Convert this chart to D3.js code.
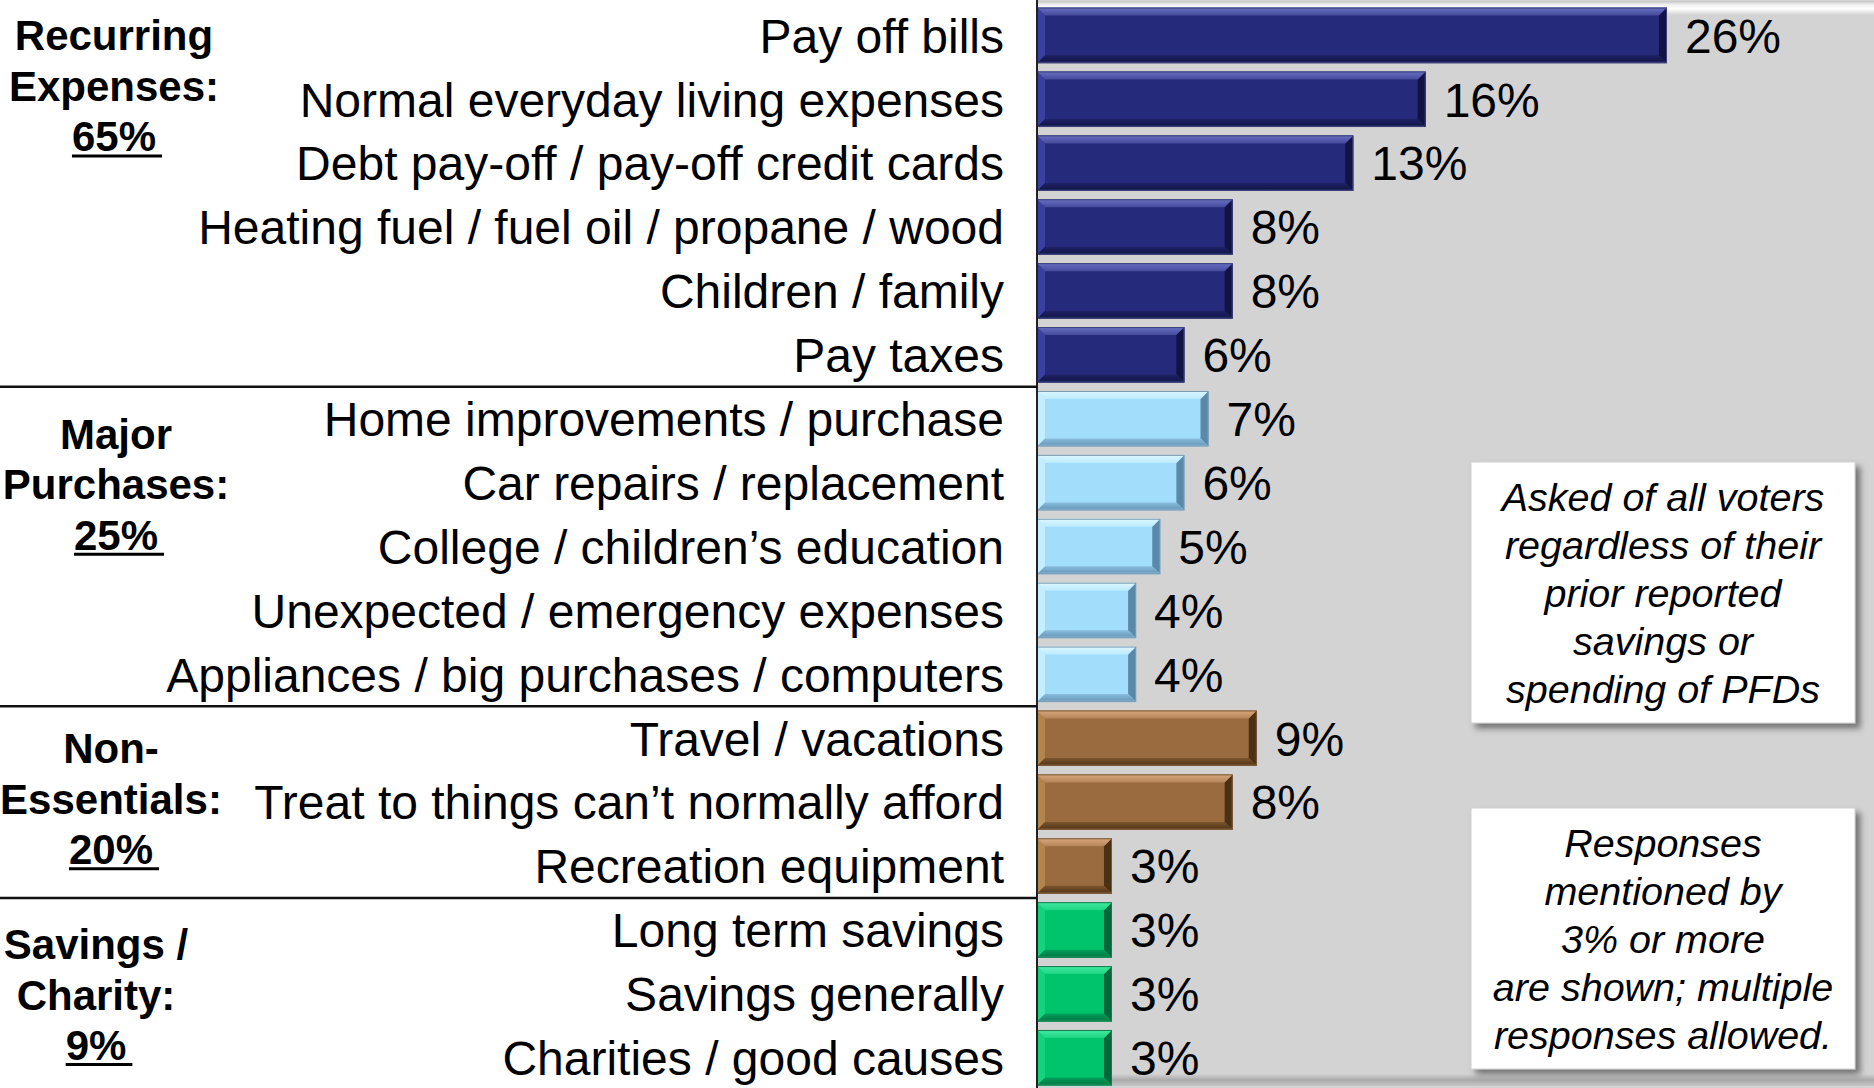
<!DOCTYPE html>
<html>
<head>
<meta charset="utf-8">
<script src="https://cdn.jsdelivr.net/npm/d3@7"></script>
<style>
  html, body { margin: 0; padding: 0; background: #fff; }
  svg { display: block; }
  text { font-family: "Liberation Sans", Arial, Helvetica, sans-serif; }
</style>
</head>
<body>
<svg id="chart" width="1874" height="1088"></svg>
<script>
// ---- Data ----
const categories = [
  "Pay off bills",
  "Normal everyday living expenses",
  "Debt pay-off / pay-off credit cards",
  "Heating fuel / fuel oil / propane / wood",
  "Children / family",
  "Pay taxes",
  "Home improvements / purchase",
  "Car repairs / replacement",
  "College / children\u2019s education",
  "Unexpected / emergency expenses",
  "Appliances / big purchases / computers",
  "Travel / vacations",
  "Treat to things can\u2019t normally afford",
  "Recreation equipment",
  "Long term savings",
  "Savings generally",
  "Charities / good causes"
];
const values = [26, 16, 13, 8, 8, 6, 7, 6, 5, 4, 4, 9, 8, 3, 3, 3, 3];

const groupNames = [
  ["Recurring", "Expenses:"],
  ["Major", "Purchases:"],
  ["Non-", "Essentials:"],
  ["Savings /", "Charity:"]
];
const groupTotals = [65, 25, 20, 9];
const groupSizes = [6, 5, 3, 3];

const noteTexts = [
  ["Asked of all voters", "regardless of their", "prior reported", "savings or", "spending of PFDs"],
  ["Responses", "mentioned by", "3% or more", "are shown; multiple", "responses allowed."]
];

// ---- Layout & style ----
const W = 1874, H = 1088;
const plotLeft = 1037;
const labelFont = 48;

const palettes = [
  { base: "#262a7b", top: "#6a71c2", left: "#3a40a0", bottom: "#15184e", right: "#111344", edge: "#3c4178" },
  { base: "#a2defc", top: "#dcf8ff", left: "#c4eeff", bottom: "#6e9ec0", right: "#5a88a8", edge: "#7c9cb2" },
  { base: "#9a6b3f", top: "#d8a87c", left: "#b4844f", bottom: "#5c3c1c", right: "#4a3014", edge: "#7a5a3a" },
  { base: "#00c46c", top: "#42eaa2", left: "#14d27e", bottom: "#007f48", right: "#00683a", edge: "#1c7a4c" }
];
// group index for each category
const groupIndex = [];
groupSizes.forEach((n, g) => { for (let i = 0; i < n; i++) groupIndex.push(g); });

const svg = d3.select("#chart");
const defs = svg.append("defs");

const shadow = defs.append("filter").attr("id", "boxShadow")
  .attr("x", "-10%").attr("y", "-10%").attr("width", "125%").attr("height", "125%");
shadow.append("feDropShadow").attr("dx", 5).attr("dy", 5).attr("stdDeviation", 3)
  .attr("flood-color", "#555").attr("flood-opacity", 0.75);

const topShine = defs.append("linearGradient").attr("id", "topShine")
  .attr("x1", 0).attr("y1", 0).attr("x2", 0).attr("y2", 1);
topShine.append("stop").attr("offset", "0%").attr("stop-color", "#c4c4c4");
topShine.append("stop").attr("offset", "25%").attr("stop-color", "#eeeeee");
topShine.append("stop").attr("offset", "55%").attr("stop-color", "#ffffff");
topShine.append("stop").attr("offset", "100%").attr("stop-color", "#d3d3d3");

const bottomShade = defs.append("linearGradient").attr("id", "bottomShade")
  .attr("x1", 0).attr("y1", 0).attr("x2", 0).attr("y2", 1);
bottomShade.append("stop").attr("offset", "0%").attr("stop-color", "#d3d3d3");
bottomShade.append("stop").attr("offset", "50%").attr("stop-color", "#a9a9a9");
bottomShade.append("stop").attr("offset", "100%").attr("stop-color", "#c6c6c6");

palettes.forEach((p, i) => {
  const gt = defs.append("linearGradient").attr("id", "bevTop" + i)
    .attr("x1", 0).attr("y1", 0).attr("x2", 0).attr("y2", 1);
  gt.append("stop").attr("offset", "0%").attr("stop-color", p.top);
  gt.append("stop").attr("offset", "100%").attr("stop-color", d3.interpolateRgb(p.top, p.base)(0.55));
  const gb = defs.append("linearGradient").attr("id", "bevBot" + i)
    .attr("x1", 0).attr("y1", 0).attr("x2", 0).attr("y2", 1);
  gb.append("stop").attr("offset", "0%").attr("stop-color", d3.interpolateRgb(p.base, p.bottom)(0.5));
  gb.append("stop").attr("offset", "70%").attr("stop-color", p.bottom);
  gb.append("stop").attr("offset", "100%").attr("stop-color", d3.interpolateRgb(p.bottom, p.top)(0.35));
});

// ---- Scales ----
const y = d3.scaleBand()
  .domain(categories)
  .range([7.6, 1085.5])
  .paddingInner(0.131)
  .paddingOuter(0);

const x = d3.scaleLinear()
  .domain([0, 34])
  .range([1039.6, 1860]);

// ---- Plot background ----
svg.append("rect").attr("x", plotLeft).attr("y", 0)
  .attr("width", W - plotLeft).attr("height", H).attr("fill", "#d3d3d3");
svg.append("rect").attr("x", plotLeft).attr("y", 1)
  .attr("width", W - plotLeft).attr("height", 14).attr("fill", "url(#topShine)");
svg.append("rect").attr("x", plotLeft).attr("y", 1074)
  .attr("width", W - plotLeft).attr("height", 12).attr("fill", "url(#bottomShade)");

// ---- Bevelled bars ----
const bars = svg.append("g").selectAll("g.bar")
  .data(categories.map((c, i) => ({ c, v: values[i], g: groupIndex[i] })))
  .join("g").attr("class", "bar");

bars.each(function (d) {
  const gsel = d3.select(this);
  const p = palettes[d.g];
  const x0 = plotLeft, x1 = x(d.v);
  const y0 = y(d.c), y1 = y(d.c) + y.bandwidth();
  const b = Math.min(8, (x1 - x0) / 2, (y1 - y0) / 2);
  const pts = a => a.map(q => q.join(",")).join(" ");
  gsel.append("rect").attr("x", x0).attr("y", y0)
    .attr("width", x1 - x0).attr("height", y1 - y0).attr("fill", p.base);
  gsel.append("polygon").attr("points", pts([[x0, y0], [x0 + b, y0 + b], [x0 + b, y1 - b], [x0, y1]]))
    .attr("fill", p.left);
  gsel.append("polygon").attr("points", pts([[x1, y0], [x1, y1], [x1 - b, y1 - b], [x1 - b, y0 + b]]))
    .attr("fill", p.right);
  gsel.append("polygon").attr("points", pts([[x0, y0], [x1, y0], [x1 - b, y0 + b], [x0 + b, y0 + b]]))
    .attr("fill", "url(#bevTop" + d.g + ")");
  gsel.append("polygon").attr("points", pts([[x0 + b, y1 - b], [x1 - b, y1 - b], [x1, y1], [x0, y1]]))
    .attr("fill", "url(#bevBot" + d.g + ")");
  gsel.append("rect").attr("x", x0 + 0.5).attr("y", y0 + 0.5)
    .attr("width", x1 - x0 - 1).attr("height", y1 - y0 - 1)
    .attr("fill", "none").attr("stroke", p.edge).attr("stroke-width", 1);
});

// value labels
svg.append("g").selectAll("text")
  .data(categories.map((c, i) => ({ c, v: values[i] })))
  .join("text")
  .attr("x", d => x(d.v) + 18)
  .attr("y", d => y(d.c) + y.bandwidth() / 2)
  .attr("dy", "0.36em")
  .attr("font-size", labelFont)
  .attr("fill", "#000")
  .text(d => d.v + "%");

// left border of the plot
svg.append("line").attr("x1", plotLeft).attr("x2", plotLeft)
  .attr("y1", 0).attr("y2", H).attr("stroke", "#222").attr("stroke-width", 2);

// ---- Category axis ----
const yAxis = d3.axisLeft(y).tickSize(0).tickPadding(33);
const axisG = svg.append("g").attr("transform", `translate(${plotLeft},0)`).call(yAxis);
axisG.select(".domain").remove();
axisG.selectAll("text")
  .attr("font-size", labelFont)
  .attr("font-family", "'Liberation Sans', Arial, sans-serif")
  .attr("fill", "#000")
  .attr("dy", "0.36em");

// ---- Group separators & labels ----
let start = 0;
const groupStarts = groupSizes.map(n => { const s = start; start += n; return s; });
const step = y.step();

groupSizes.forEach((n, g) => {
  if (g < groupSizes.length - 1) {
    const last = categories[groupStarts[g] + n - 1];
    const yy = y(last) + y.bandwidth() + (step - y.bandwidth()) / 2;
    svg.append("line").attr("x1", 0).attr("x2", plotLeft).attr("y1", yy).attr("y2", yy)
      .attr("stroke", "#111").attr("stroke-width", 2.5);
  }
});

const groupCenterX = [114, 116, 111, 96];
const groupFirstDy = [0, 15, 10, 14];
const groupLineH = 50.5;

groupNames.forEach((lines, g) => {
  const firstCat = categories[groupStarts[g]];
  const y0 = y(firstCat) + y.bandwidth() / 2 + groupFirstDy[g];
  const allLines = lines.concat([groupTotals[g] + "%"]);
  allLines.forEach((t, k) => {
    const tx = svg.append("text")
      .attr("x", groupCenterX[g])
      .attr("y", y0 + k * groupLineH)
      .attr("dy", "0.36em")
      .attr("text-anchor", "middle")
      .attr("font-size", 42)
      .attr("font-weight", "bold")
      .attr("fill", "#000")
      .text(t);
    if (k === allLines.length - 1) {
      const len = tx.node().getComputedTextLength();
      const base = y0 + k * groupLineH + 0.36 * 42;
      svg.append("line")
        .attr("x1", groupCenterX[g] - len / 2)
        .attr("x2", groupCenterX[g] + len / 2 + 6)
        .attr("y1", base + 4.5).attr("y2", base + 4.5)
        .attr("stroke", "#000").attr("stroke-width", 3);
    }
  });
});

// ---- Note boxes ----
const noteBoxes = [
  { x: 1471, y: 462, w: 384, h: 261 },
  { x: 1471, y: 808, w: 384, h: 261 }
];
noteTexts.forEach((lines, i) => {
  const bx = noteBoxes[i];
  svg.append("rect").attr("x", bx.x).attr("y", bx.y).attr("width", bx.w).attr("height", bx.h)
    .attr("fill", "#fff").attr("stroke", "#d0d0d0").attr("stroke-width", 1)
    .attr("filter", "url(#boxShadow)");
  const cy = bx.y + bx.h / 2;
  const lh = 48;
  lines.forEach((t, k) => {
    svg.append("text")
      .attr("x", bx.x + bx.w / 2)
      .attr("y", cy + (k - (lines.length - 1) / 2) * lh)
      .attr("dy", "0.36em")
      .attr("text-anchor", "middle")
      .attr("font-size", 39.5)
      .attr("font-style", "italic")
      .attr("fill", "#000")
      .text(t);
  });
});
</script>
</body>
</html>
